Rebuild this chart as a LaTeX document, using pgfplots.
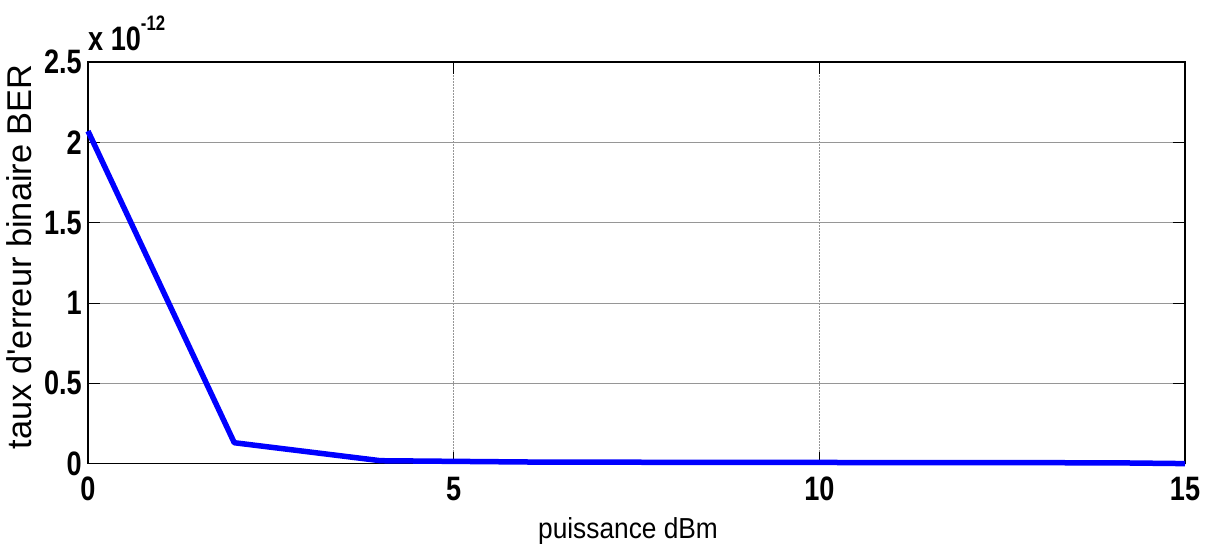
\documentclass[border=0pt]{standalone}
\usepackage{fontspec}
\usepackage{pgfplots}
\pgfplotsset{compat=1.18}
\setmainfont{Liberation Sans}
\newfontfamily\tickfont[FakeStretch=0.8]{Liberation Sans}
\newfontfamily\xlabfont[FakeStretch=0.91]{Liberation Sans}
\newfontfamily\ylabfont{Liberation Sans}
\definecolor{gridgray}{RGB}{150,150,150}

\begin{document}
\begin{tikzpicture}
\begin{axis}[
  scale only axis,
  width=1097bp, height=401.6bp,
  xmin=0, xmax=15,
  ymin=0, ymax=2.5e-12,
  scaled y ticks=false,
  xtick={0,5,10,15},
  xticklabels={0,5,10,15},
  ytick={0,0.5e-12,1e-12,1.5e-12,2e-12,2.5e-12},
  yticklabels={0,0.5,1,1.5,2,2.5},
  tick align=inside,
  major tick length=12bp,
  tick style={black, line width=0.8bp},
  axis line style={black, line width=1.5bp},
  grid=major,
  x grid style={gridgray, line width=0.8bp, dash pattern=on 1.5bp off 1.5bp},
  y grid style={gridgray, line width=0.9bp},
  xticklabel style={font=\fontsize{34}{34}\tickfont\bfseries, anchor=north, inner sep=0pt, yshift=-13bp},
  yticklabel style={font=\fontsize{34}{34}\tickfont\bfseries, anchor=east, inner sep=0pt, xshift=-6bp},
  xlabel={puissance dBm},
  ylabel={taux d'erreur binaire BER},
  every axis x label/.style={at={(axis description cs:0.4923,-0.18675)}, anchor=base, inner sep=0pt, font=\fontsize{29}{29}\xlabfont},
  every axis y label/.style={at={(axis description cs:-0.05105,0.515)}, rotate=90, anchor=base, inner sep=0pt, font=\fontsize{34.5}{34.5}\ylabfont},
  clip=false,
]
\addplot[blue, line width=5.5bp, line join=round] coordinates {
  (0,2.07e-12) (2,0.13e-12) (4,0.018e-12) (6,0.010e-12) (8,0.008e-12)
  (10,0.007e-12) (12,0.006e-12) (14,0.005e-12) (15,0.0)
};
\end{axis}
% exponent label above the y axis
\node[anchor=base west, inner sep=0pt] at ([yshift=11bp]current axis.north west)
  {\fontsize{34}{34}\tickfont\bfseries x 10\raisebox{20bp}{\fontsize{21}{21}\tickfont\bfseries -12}};
\pgfresetboundingbox
\path[use as bounding box] ([shift={(-88bp,-84bp)}]current axis.south west)
  rectangle ([shift={(23bp,62bp)}]current axis.north east);
\end{tikzpicture}
\end{document}
